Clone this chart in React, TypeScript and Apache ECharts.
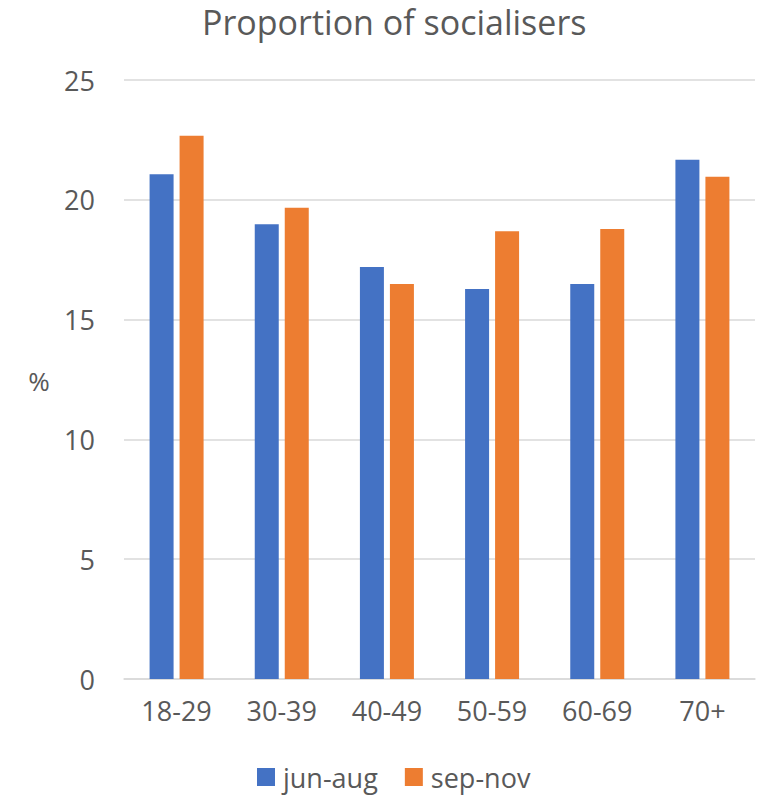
import React, { useEffect, useRef } from "react";
import * as echarts from "echarts";

const categories = ["18-29", "30-39", "40-49", "50-59", "60-69", "70+"];
const junAug = [21.07, 18.98, 17.2, 16.28, 16.49, 21.67];
const sepNov = [22.67, 19.67, 16.49, 18.69, 18.78, 20.96];
const yTicks = { min: 0, max: 25, interval: 5 };

const FONT = "'Open Sans', 'Noto Sans', sans-serif";
const TEXT = "#595959";

export default function App() {
  const ref = useRef<HTMLDivElement>(null);

  useEffect(() => {
    if (!ref.current) return;
    const chart = echarts.init(ref.current, undefined, { renderer: "svg" });
    chart.setOption({
      animation: false,
      backgroundColor: "#ffffff",
      title: {
        text: "Proportion of socialisers",
        left: 197,
        top: 0,
        textStyle: { fontFamily: FONT, fontSize: 34, fontWeight: "normal", color: TEXT },
      },
      legend: {
        top: 763,
        left: 257,
        padding: 0,
        itemWidth: 18,
        itemHeight: 18,
        itemGap: 27,
        icon: "rect",
        textStyle: {
          fontFamily: FONT,
          fontSize: 27,
          lineHeight: 28,
          color: TEXT,
          padding: [0, 0, 0, 3],
        },
        data: ["jun-aug", "sep-nov"],
      },
      grid: { left: 124, right: 15, top: 80, bottom: 118, containLabel: false },
      xAxis: {
        type: "category",
        data: categories,
        axisLine: { lineStyle: { color: "#D9D9D9", width: 1.5 } },
        axisTick: { show: false },
        axisLabel: { fontFamily: FONT, fontSize: 27, color: TEXT, margin: 18 },
      },
      yAxis: {
        type: "value",
        min: yTicks.min,
        max: yTicks.max,
        interval: yTicks.interval,
        axisLine: { show: false },
        axisTick: { show: false },
        splitLine: { lineStyle: { color: "#D9D9D9", width: 1.5 } },
        axisLabel: { fontFamily: FONT, fontSize: 27, color: TEXT, margin: 29 },
      },
      graphic: [
        {
          type: "text",
          x: 39,
          y: 381,
          style: {
            text: "%",
            fontFamily: FONT,
            fontSize: 26,
            fill: TEXT,
            align: "center",
            verticalAlign: "middle",
          },
        },
      ],
      series: [
        {
          name: "jun-aug",
          type: "bar",
          data: junAug,
          barWidth: 24,
          barGap: "25%",
          itemStyle: { color: "#4472C4" },
        },
        {
          name: "sep-nov",
          type: "bar",
          data: sepNov,
          barWidth: 24,
          itemStyle: { color: "#ED7D31" },
        },
      ],
    });
    return () => chart.dispose();
  }, []);

  return (
    <div
      ref={ref}
      style={{ position: "fixed", left: 0, top: 0, width: 770, height: 797 }}
    />
  );
}
